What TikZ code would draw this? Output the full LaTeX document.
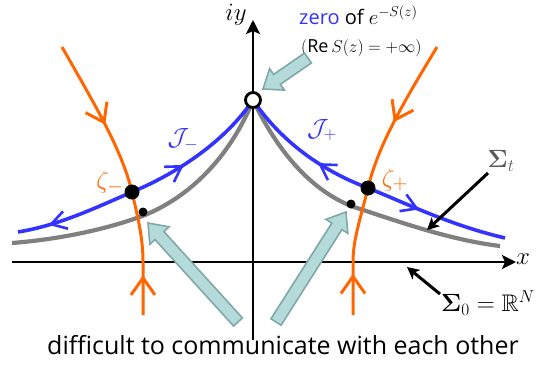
\documentclass[tikz,border=0pt]{standalone}
\usepackage{amsmath,amssymb,bm}
\usepackage{fontspec}
\setmainfont{Open Sans}
\usetikzlibrary{arrows.meta,calc,decorations.markings}
\definecolor{cblue}{RGB}{51,51,255}
\definecolor{corange}{RGB}{255,102,0}
\definecolor{cgray}{RGB}{128,128,128}
\definecolor{cdark}{RGB}{90,90,90}
\definecolor{fatfill}{RGB}{180,218,218}
\definecolor{fatdraw}{RGB}{128,168,168}
\newcommand\fatarrow[2]{%
  \coordinate (fah) at ($(#2)!17pt!(#1)$);
  \draw[fatstyle] ($(#1)!6pt!90:(#2)$) -- ($(fah)!6pt!90:(#2)$) -- ($(fah)!13pt!90:(#2)$) -- (#2)
    -- ($(fah)!13pt!-90:(#2)$) -- ($(fah)!6pt!-90:(#2)$) -- ($(#1)!6pt!-90:(#2)$) -- cycle;}
\tikzset{
  fatstyle/.style={draw=fatdraw, fill=fatfill, line width=1.6pt, line join=miter},
  axisline/.style={line width=2.8pt, -{Stealth[length=14pt,width=14pt,inset=3pt]}},
  ptrarrow/.style={line width=3pt, -{Stealth[length=12pt,width=12pt,inset=3pt]}},
  bluecurve/.style={color=cblue, line width=3.6pt},
  graycurve/.style={color=cgray, line width=4.2pt},
  orangecurve/.style={color=corange, line width=3pt},
  omark/.style={postaction={decorate}, decoration={markings,
      mark=at position #1 with {\arrow{Straight Barb[length=17pt,width=24pt,line width=3pt]}}}},
  bmark/.style={postaction={decorate}, decoration={markings,
      mark=at position #1 with {\arrow{Straight Barb[length=15pt,width=18pt,line width=2.6pt]}}}},
  dotbig/.style={circle, fill=black, inner sep=0pt, minimum size=15pt},
  dotsmall/.style={circle, fill=black, inner sep=0pt, minimum size=9pt},
  opencirc/.style={circle, draw=black, fill=white, line width=2.8pt, inner sep=0pt, minimum size=15pt},
}
\begin{document}
\begin{tikzpicture}[x=1pt,y=-1pt]
\useasboundingbox (0,0) rectangle (536,365);
% key coordinates
\coordinate (Z) at (253,100);
\coordinate (ZM) at (132,192);
\coordinate (ZP) at (368,188);
\coordinate (SM) at (143,212);
\coordinate (SP) at (351,204);
% axes
\coordinate (xl) at (12,262);
\coordinate (xr) at (516,262);
\coordinate (yb) at (253,340);
\coordinate (yt) at (253,20);
\draw[axisline] (xl) -- (xr);
\draw[axisline] (yb) -- (yt);
\node[font=\fontsize{30}{30}\selectfont] (xlab) at (523,259) {$x$};
\node[font=\fontsize{27}{27}\selectfont] (ylab) at (236,15) {$iy$};
% gray curves (Sigma_t)
\draw[graycurve] (Z) .. controls (270,135) and (300,185) .. (351,206) .. controls (400,222) and (450,240) .. (500,246);
\draw[graycurve] (Z) .. controls (238,138) and (205,190) .. (145,215) .. controls (100,232) and (50,240) .. (12,243);
% blue curves (J)
\draw[bluecurve, bmark=0.38] (ZP) .. controls (320,170) and (280,140) .. (Z);
\draw[bluecurve, bmark=0.38] (ZP) .. controls (410,205) and (450,225) .. (505,238);
\draw[bluecurve, bmark=0.38] (ZM) .. controls (180,172) and (226,140) .. (Z);
\draw[bluecurve, bmark=0.74] (ZM) .. controls (95,208) and (60,225) .. (18,232);
% orange curves
\coordinate (otl) at (62,47);
\coordinate (obl) at (143,315);
\coordinate (otr) at (437,47);
\coordinate (obr) at (353,315);
\draw[orangecurve, omark=0.55] (otl) .. controls (95,105) and (122,150) .. (ZM);
\draw[orangecurve, omark=0.32] (obl) -- (143,262) .. controls (143,240) and (139,222) .. (ZM);
\draw[orangecurve, omark=0.55] (otr) .. controls (405,100) and (378,145) .. (ZP);
\draw[orangecurve, omark=0.32] (obr) -- (353,262) .. controls (353,240) and (360,220) .. (ZP);
% points
\node[opencirc] (zero) at (Z) {};
\node[dotbig] (zm) at (ZM) {};
\node[dotbig] (zp) at (ZP) {};
\node[dotsmall] (sm) at (SM) {};
\node[dotsmall] (sp) at (SP) {};
% labels
\node[text=corange, font=\fontsize{29}{29}\selectfont] (lzm) at (110,183) {$\zeta_-$};
\node[text=corange, font=\fontsize{29}{29}\selectfont] (lzp) at (395,180) {$\zeta_+$};
\node[text=cblue, font=\fontsize{25}{25}\selectfont] (ljm) at (183,140) {$\mathcal{J}_-$};
\node[text=cblue, font=\fontsize{25}{25}\selectfont] (ljp) at (322,130) {$\mathcal{J}_+$};
\node[text=cdark, font=\fontsize{26}{26}\selectfont] (lst) at (501,161) {$\bm{\Sigma}_t$};
\node[font=\fontsize{24}{24}\selectfont] (ls0) at (488,303) {$\bm{\Sigma}_0=\mathbb{R}^N$};
\coordinate (st1) at (488,173);
\coordinate (st2) at (427,230);
\draw[ptrarrow] (st1) -- (st2);
\coordinate (s01) at (440,294);
\coordinate (s02) at (407,267);
\draw[ptrarrow] (s01) -- (s02);
% top annotation
\node[anchor=west, font=\fontsize{20}{20}\selectfont, inner sep=0pt] (ztext) at (299,15)
  {\textcolor{cblue}{zero} of $e^{-S(z)}$};
\node[anchor=west, font=\fontsize{18}{18}\selectfont, inner sep=0pt] (retext) at (301,48)
  {$($Re$\,S(z)=+\infty)$};
\coordinate (fa1) at (308,58);
\coordinate (fa2) at (263,89);
\fatarrow{fa1}{fa2}
% bottom annotation
\coordinate (fb1) at (238,322);
\coordinate (fb2) at (148,223);
\coordinate (fc1) at (276,322);
\coordinate (fc2) at (346,212);
\fatarrow{fb1}{fb2}
\fatarrow{fc1}{fc2}
\node[font=\fontsize{25}{25}\selectfont, anchor=base] (caption) at (283,354) {difficult to communicate with each other};
\end{tikzpicture}
\end{document}
